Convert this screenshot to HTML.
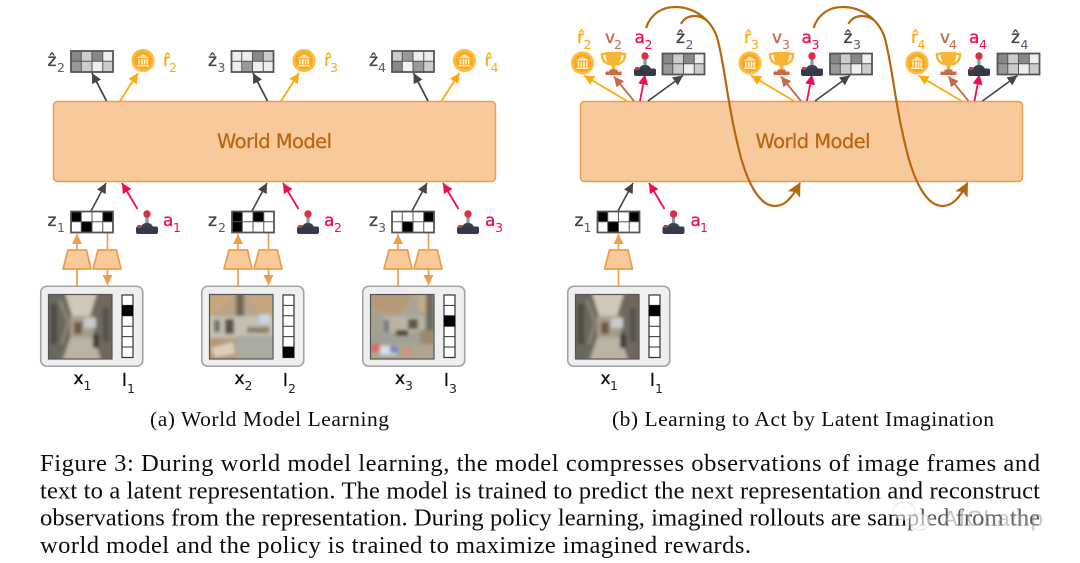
<!DOCTYPE html>
<html><head><meta charset="utf-8"><style>
html,body{margin:0;padding:0;background:#fff;width:1080px;height:563px;overflow:hidden}
svg{display:block}
.d{font-family:"DejaVu Sans",sans-serif;font-size:17px;stroke-width:.35px;paint-order:stroke}
.s{font-family:"DejaVu Sans",sans-serif;font-size:12.5px}
.t{font-family:"Liberation Serif",serif;font-size:24.6px;fill:#111}
.c{font-family:"Liberation Serif",serif;font-size:21.5px;fill:#111}
</style></head><body>
<svg width="1080" height="563" viewBox="0 0 1080 563" xmlns="http://www.w3.org/2000/svg">
<defs>
<filter id="b" x="-10%" y="-10%" width="120%" height="120%"><feGaussianBlur stdDeviation="1.7"/></filter>
<filter id="soft" filterUnits="userSpaceOnUse" x="0" y="0" width="1080" height="563"><feGaussianBlur stdDeviation="0.35"/></filter>
<clipPath id="ic"><rect width="64" height="65"/></clipPath>
<marker id="mk" markerUnits="userSpaceOnUse" markerWidth="12" markerHeight="12" refX="10" refY="5" orient="auto"><path d="M0,0L10,5L0,10z" fill="#444"/></marker>
<marker id="mo" markerUnits="userSpaceOnUse" markerWidth="12" markerHeight="12" refX="10" refY="5" orient="auto"><path d="M0,0L10,5L0,10z" fill="#ffa90a"/></marker>
<marker id="mr" markerUnits="userSpaceOnUse" markerWidth="12" markerHeight="12" refX="10" refY="5" orient="auto"><path d="M0,0L10,5L0,10z" fill="#f0104f"/></marker>
<marker id="mb" markerUnits="userSpaceOnUse" markerWidth="12" markerHeight="12" refX="10" refY="5" orient="auto"><path d="M0,0L10,5L0,10z" fill="#c8694a"/></marker>
<marker id="mf" markerUnits="userSpaceOnUse" markerWidth="12" markerHeight="12" refX="10" refY="5" orient="auto"><path d="M0,0L10,5L0,10z" fill="#ef9d4a"/></marker>
<marker id="mc" markerUnits="userSpaceOnUse" markerWidth="16" markerHeight="16" refX="13" refY="7" orient="auto"><path d="M0,0L14,7L0,14L3,7z" fill="#b8660c"/></marker>

<g id="grid"><path d="M10.75,0V21.5M21.5,0V21.5M32.25,0V21.5M0,10.75H43" stroke="#555" stroke-width="1" fill="none"/><rect x=".5" y=".5" width="42" height="21" fill="none" stroke="#555" stroke-width="1.8"/></g>
<g id="za">
<rect width="10.75" height="10.75" fill="#888"/><rect x="10.75" width="10.75" height="10.75" fill="#ccc"/><rect x="21.5" width="10.75" height="10.75" fill="#888"/><rect x="32.25" width="10.75" height="10.75" fill="#eee"/>
<rect y="10.75" width="10.75" height="10.75" fill="#999"/><rect x="10.75" y="10.75" width="10.75" height="10.75" fill="#ccc"/><rect x="21.5" y="10.75" width="10.75" height="10.75" fill="#eee"/><rect x="32.25" y="10.75" width="10.75" height="10.75" fill="#ccc"/>
<use href="#grid"/></g>
<g id="zb">
<rect width="10.75" height="10.75" fill="#eee"/><rect x="10.75" width="10.75" height="10.75" fill="#eee"/><rect x="21.5" width="10.75" height="10.75" fill="#888"/><rect x="32.25" width="10.75" height="10.75" fill="#ccc"/>
<rect y="10.75" width="10.75" height="10.75" fill="#eee"/><rect x="10.75" y="10.75" width="10.75" height="10.75" fill="#999"/><rect x="21.5" y="10.75" width="10.75" height="10.75" fill="#eee"/><rect x="32.25" y="10.75" width="10.75" height="10.75" fill="#eee"/>
<use href="#grid"/></g>
<g id="zc">
<rect width="10.75" height="10.75" fill="#ccc"/><rect x="10.75" width="10.75" height="10.75" fill="#999"/><rect x="21.5" width="10.75" height="10.75" fill="#eee"/><rect x="32.25" width="10.75" height="10.75" fill="#eee"/>
<rect y="10.75" width="10.75" height="10.75" fill="#888"/><rect x="10.75" y="10.75" width="10.75" height="10.75" fill="#f2f2f2"/><rect x="21.5" y="10.75" width="10.75" height="10.75" fill="#999"/><rect x="32.25" y="10.75" width="10.75" height="10.75" fill="#ccc"/>
<use href="#grid"/></g>
<g id="b1"><rect width="43" height="21.5" fill="#fff"/><rect width="10.75" height="10.75"/><rect x="32.25" width="10.75" height="10.75"/><rect x="10.75" y="10.75" width="10.75" height="10.75"/><use href="#grid"/></g>
<g id="b2"><rect width="43" height="21.5" fill="#fff"/><rect width="10.75" height="21.5"/><rect x="21.5" width="10.75" height="10.75"/><use href="#grid"/></g>
<g id="b3"><rect width="43" height="21.5" fill="#fff"/><rect x="32.25" width="10.75" height="10.75"/><rect x="10.75" y="10.75" width="10.75" height="10.75"/><use href="#grid"/></g>

<g id="coin"><circle r="11.6" fill="#fbbd45"/><circle r="9" fill="#fda81e"/>
<path d="M-6.5,-2.4L0,-6.4L6.5,-2.4zM-6,4.4H6V6H-6zM-5,-1.4H-3.2V3.8H-5zM-2,-1.4H-.3V3.8H-2zM.7,-1.4H2.4V3.8H.7zM3.4,-1.4H5.1V3.8H3.4z" fill="#ffeec8"/></g>
<g id="trophy">
<path d="M-8,-11H8C8,-2 5,2 1.8,3V6.5H-1.8V3C-5,2 -8,-2 -8,-11z" fill="#f8b534"/>
<path d="M-8,-9H-11.5C-12,-3 -8,0 -4,1.5M8,-9H11.5C12,-3 8,0 4,1.5" fill="none" stroke="#f8b534" stroke-width="2.4"/>
<path d="M-4,6.5H4V8.5H8V12H-8V8.5H-4z" fill="#c8694a"/></g>
<g id="joy"><rect x="-1.6" y="1" width="3.2" height="10" fill="#8d9aa5"/><circle cy="0" r="3.7" fill="#de2d45"/>
<path d="M-6.5,14C-5,9.5 -2.5,9 0,9C2.5,9 5,9.5 6.5,14z" fill="#3b4450"/>
<rect x="-11" y="12.5" width="22" height="7.5" rx="2" fill="#323b47"/><rect x="-10" y="11" width="4.5" height="3" rx="1.2" fill="#de2d45"/></g>
<path id="trap" d="M5,0H23.5L28,19H0z" fill="#f8c99b" stroke="#ef9d4a" stroke-width="1.7" stroke-linejoin="round"/>

<g id="box"><rect x=".75" y=".75" width="102" height="80" rx="6" fill="#efefef" stroke="#a3a3a3" stroke-width="1.6"/></g>
<g id="lbar"><rect width="11" height="62.5" fill="#fff"/><path d="M0,10.4H11M0,20.8H11M0,31.2H11M0,41.6H11M0,52H11" stroke="#333" stroke-width="1"/><rect width="11" height="62.5" fill="none" stroke="#333" stroke-width="1.2"/></g>

<g id="im1"><g clip-path="url(#ic)"><g filter="url(#b)">
<rect x="-4" y="-4" width="72" height="73" fill="#76725f"/>
<path d="M-4,-4H18L26,24V40L8,69H-4z" fill="#6b675c"/><path d="M68,-4H46L40,24V38L56,69H68z" fill="#6d695d"/>
<path d="M16,-4H50L42,22H24z" fill="#cfc7b8"/>
<rect x="22" y="22" width="24" height="22" fill="#a89d8a"/>
<rect x="36" y="24" width="12" height="10" fill="#c4cccc"/>
<rect x="26" y="28" width="8" height="12" fill="#6d5947"/>
<path d="M22,44H46L54,69H14z" fill="#b8b4a2"/>
<rect x="45" y="40" width="6" height="14" fill="#3f3b34"/>
<rect x="3" y="10" width="6" height="40" fill="#4f4c44"/><rect x="55" y="14" width="6" height="34" fill="#55514a"/>
<path d="M12,6L20,28L14,50" stroke="#8b877a" stroke-width="3" fill="none"/>
</g></g><rect x=".5" y=".5" width="63.5" height="64.5" fill="none" stroke="#555" stroke-width="1.2"/></g>

<g id="im2"><g clip-path="url(#ic)"><g filter="url(#b)">
<rect x="-4" y="-4" width="72" height="73" fill="#b9a488"/>
<path d="M-4,-4H30L10,18L-4,22zM68,-4H36L48,16L68,20z" fill="#c6a67c"/>
<rect x="27" y="-4" width="8" height="34" fill="#6e655a"/>
<rect x="-4" y="22" width="72" height="22" fill="#c4bfb0"/>
<rect x="50" y="20" width="11" height="9" fill="#c6d6e4"/>
<rect x="16" y="25" width="9" height="15" fill="#54524e"/><rect x="5" y="26" width="6" height="12" fill="#6d7070"/>
<path d="M26,42H68V69H24z" fill="#aaaba3"/>
<path d="M-4,44H26L28,69H-4z" fill="#b79a74"/><path d="M2,54L24,48L26,60L6,63z" fill="#d8cfbd"/>
<rect x="38" y="33" width="22" height="6" fill="#8b7f6c"/>
</g></g><rect x=".5" y=".5" width="63.5" height="64.5" fill="none" stroke="#555" stroke-width="1.2"/></g>

<g id="im3"><g clip-path="url(#ic)"><g filter="url(#b)">
<rect x="-4" y="-4" width="72" height="73" fill="#a8a598"/>
<path d="M-4,-4H46L30,20H18L-4,12z" fill="#b69a76"/><path d="M46,-4H68V16L50,18z" fill="#c2ad8e"/>
<path d="M-4,14L18,22L14,38H-4z" fill="#a7a08f"/><rect x="56" y="-4" width="8" height="44" fill="#6e6a5e"/>
<rect x="14" y="22" width="40" height="16" fill="#b9b3a2"/>
<rect x="38" y="25" width="10" height="10" fill="#5a5850"/><rect x="14" y="26" width="5" height="12" fill="#6b7a85"/>
<path d="M8,38H54L60,50H-4z" fill="#9fa197"/><rect x="26" y="36" width="12" height="6" fill="#50493e"/><rect x="50" y="36" width="14" height="16" fill="#9c8a6c"/>
<path d="M-4,50H68V69H-4z" fill="#b0a58f"/>
<rect x="1" y="50" width="10" height="8" fill="#d56a62"/><rect x="10" y="52" width="16" height="9" fill="#d9dde6"/><rect x="20" y="52" width="8" height="7" fill="#6f8cc5"/><rect x="34" y="53" width="9" height="9" fill="#c29a78"/>
</g></g><rect x=".5" y=".5" width="63.5" height="64.5" fill="none" stroke="#555" stroke-width="1.2"/></g>

<g id="arL"><path d="M53.5,0L39,-28" stroke="#444" stroke-width="1.8" fill="none" marker-end="url(#mk)"/><path d="M67,0L85,-28" stroke="#ffa90a" stroke-width="1.8" fill="none" marker-end="url(#mo)"/></g>
<g id="arB"><path d="M91,211L106,183" stroke="#444" stroke-width="1.6" fill="none" marker-end="url(#mk)"/><path d="M137.5,209L122,183" stroke="#f0104f" stroke-width="1.8" fill="none" marker-end="url(#mr)"/></g>
<g id="arR"><path d="M627,101L584,75.5" stroke="#ffa90a" stroke-width="1.8" fill="none" marker-end="url(#mo)"/><path d="M634,101L614,76.5" stroke="#c8694a" stroke-width="1.8" fill="none" marker-end="url(#mb)"/><path d="M640,101L645,74.5" stroke="#f0104f" stroke-width="1.8" fill="none" marker-end="url(#mr)"/><path d="M648,101L683,75.5" stroke="#444" stroke-width="1.6" fill="none" marker-end="url(#mk)"/></g>
<g id="enc"><path d="M77,286V234" stroke="#ef9d4a" stroke-width="1.7" fill="none" marker-end="url(#mf)"/><use href="#trap" x="63" y="250"/></g>
<g id="dec"><path d="M107.5,233V285" stroke="#ef9d4a" stroke-width="1.7" fill="none" marker-end="url(#mf)"/><use href="#trap" x="93" y="250"/></g>
</defs>

<rect width="1080" height="563" fill="#fff"/>
<g filter="url(#soft)">

<!-- World model boxes -->
<rect x="53.5" y="101.5" width="442" height="80" rx="4" fill="#f8c99b" stroke="#ec9f50" stroke-width="1.5"/>
<rect x="580.5" y="101.5" width="442" height="80" rx="4" fill="#f8c99b" stroke="#ec9f50" stroke-width="1.5"/>
<text x="274.5" y="148" text-anchor="middle" font-family="DejaVu Sans,sans-serif" font-size="19.5" fill="#b8660c" stroke="#b8660c" stroke-width=".25" textLength="115">World Model</text>
<text x="813" y="148" text-anchor="middle" font-family="DejaVu Sans,sans-serif" font-size="19.5" fill="#b8660c" stroke="#b8660c" stroke-width=".25" textLength="115">World Model</text>

<!-- Left top -->
<use href="#za" x="70.5" y="50.5"/><use href="#zb" x="231" y="50.5"/><use href="#zc" x="391.5" y="50.5"/>
<use href="#coin" x="143" y="60.5"/><use href="#coin" x="304" y="60.5"/><use href="#coin" x="464.5" y="60.5"/>
<use href="#arL" x="53" y="101"/><use href="#arL" x="214" y="101"/><use href="#arL" x="374.5" y="101"/>
<g fill="#444" stroke="#444">
<text class="d" x="47.5" y="66">ẑ</text><text class="d" x="208" y="66">ẑ</text><text class="d" x="369" y="66">ẑ</text>
</g>
<g fill="#4b6078">
<text class="s" x="57" y="72">2</text><text class="s" x="217.5" y="72">3</text><text class="s" x="378" y="72">4</text>
</g>
<g fill="#ffa90a" stroke="#ffa90a">
<text class="d" x="163" y="66">r̂</text>
<text class="d" x="324" y="66">r̂</text>
<text class="d" x="484.5" y="66">r̂</text>
</g>
<g fill="#ffa90a">
<text class="s" x="169" y="72">2</text><text class="s" x="330" y="72">3</text><text class="s" x="490.5" y="72">4</text>
</g>

<!-- Left bottom -->
<use href="#arB"/><use href="#arB" x="161"/><use href="#arB" x="321"/>
<use href="#enc"/><use href="#dec"/><use href="#enc" x="161"/><use href="#dec" x="161"/><use href="#enc" x="321"/><use href="#dec" x="321"/>
<use href="#b1" x="70.5" y="211"/><use href="#b2" x="231.5" y="211"/><use href="#b3" x="391.5" y="211"/>
<use href="#joy" x="147" y="214"/><use href="#joy" x="308" y="214"/><use href="#joy" x="468" y="214"/>
<g fill="#444" stroke="#444">
<text class="d" x="47.5" y="226">z</text><text class="d" x="208" y="226">z</text><text class="d" x="369" y="226">z</text>
</g>
<g fill="#4b6078">
<text class="s" x="57" y="232">1</text><text class="s" x="218" y="232">2</text><text class="s" x="378" y="232">3</text>
</g>
<g fill="#f0104f" stroke="#f0104f">
<text class="d" x="163" y="226">a</text><text class="d" x="324" y="226">a</text><text class="d" x="485" y="226">a</text>
</g>
<g fill="#f0104f">
<text class="s" x="173" y="232">1</text><text class="s" x="334" y="232">2</text><text class="s" x="495" y="232">3</text>
</g>

<use href="#box" x="40" y="285.5"/><use href="#box" x="201" y="285.5"/><use href="#box" x="362" y="285.5"/>
<use href="#im1" x="48" y="294"/><use href="#im2" x="209" y="294"/><use href="#im3" x="370" y="294"/>
<use href="#lbar" x="122" y="295"/><rect x="122" y="305.4" width="11" height="10.4"/>
<use href="#lbar" x="283" y="295"/><rect x="283" y="347" width="11" height="10.5"/>
<use href="#lbar" x="444" y="295"/><rect x="444" y="315.8" width="11" height="10.4"/>
<g fill="#111" stroke="#111">
<text class="d" x="73.5" y="384">x</text><text class="d" x="122" y="386">l</text>
<text class="d" x="234.5" y="384">x</text><text class="d" x="283" y="386">l</text>
<text class="d" x="395" y="384">x</text><text class="d" x="444" y="386">l</text>
<text class="d" x="600.5" y="384">x</text><text class="d" x="650" y="386">l</text>
</g>
<g fill="#222">
<text class="s" x="83.5" y="390">1</text><text class="s" x="127" y="393">1</text>
<text class="s" x="244.5" y="390">2</text><text class="s" x="288" y="393">2</text>
<text class="s" x="405" y="390">3</text><text class="s" x="449" y="393">3</text>
<text class="s" x="610" y="390">1</text><text class="s" x="655" y="393">1</text>
</g>

<!-- Right top -->
<use href="#arR"/><use href="#arR" x="167"/><use href="#arR" x="334.5"/>
<g>
<use href="#coin" x="582.5" y="63"/><use href="#coin" x="750" y="63"/><use href="#coin" x="917" y="63"/>
<use href="#trophy" x="613.5" y="63"/><use href="#trophy" x="781.5" y="63"/><use href="#trophy" x="948.5" y="63"/>
<use href="#joy" x="645" y="56"/><use href="#joy" x="812" y="56"/><use href="#joy" x="979" y="56"/>
<use href="#za" x="662" y="53"/><use href="#za" x="829.5" y="53"/><use href="#za" x="997" y="53"/>
</g>
<g fill="#ffa90a" stroke="#ffa90a">
<text class="d" x="577" y="43">r̂</text><text class="d" x="744" y="43">r̂</text><text class="d" x="911" y="43">r̂</text>
</g>
<g fill="#ffa90a">
<text class="s" x="583.5" y="49">2</text><text class="s" x="751" y="49">3</text><text class="s" x="917.5" y="49">4</text>
</g>
<g fill="#c8694a" stroke="#c8694a">
<text class="d" x="605" y="43">v</text><text class="d" x="772" y="43">v</text><text class="d" x="940" y="43">v</text>
</g>
<g fill="#c8694a">
<text class="s" x="614" y="49">2</text><text class="s" x="782" y="49">3</text><text class="s" x="949" y="49">4</text>
</g>
<g fill="#f0104f" stroke="#f0104f">
<text class="d" x="634.5" y="43">a</text><text class="d" x="801.5" y="43">a</text><text class="d" x="969" y="43">a</text>
</g>
<g fill="#f0104f">
<text class="s" x="644.5" y="49">2</text><text class="s" x="811.5" y="49">3</text><text class="s" x="979" y="49">4</text>
</g>
<g fill="#444" stroke="#444">
<text class="d" x="676" y="43">ẑ</text><text class="d" x="843.5" y="43">ẑ</text><text class="d" x="1011" y="43">ẑ</text>
</g>
<g fill="#4b6078">
<text class="s" x="685.5" y="49">2</text><text class="s" x="853" y="49">3</text><text class="s" x="1020.5" y="49">4</text>
</g>

<!-- Curves -->
<g id="cv" fill="none" stroke="#b8660c" stroke-width="2.2">
<path d="M646,28C651,13 663,7 675,7C695,7 711,20 717,37C725,65 727,105 741,158C748,182 759,206 775,206C785,206 792,198 800,183" marker-end="url(#mc)"/>
<path d="M681,24C684,18 689,16 695,16C699,16 702,17 706,20"/>
</g>
<use href="#cv" x="167.5"/>

<!-- Right bottom -->
<use href="#arB" x="527"/>
<use href="#enc" x="541.5"/>
<use href="#b1" x="597" y="211"/>
<use href="#joy" x="673.5" y="214"/>
<text class="d" x="574.5" y="226" fill="#444" stroke="#444">z</text><text class="s" x="583.5" y="232" fill="#4b6078">1</text>
<text class="d" x="690.5" y="226" fill="#f0104f" stroke="#f0104f">a</text><text class="s" x="700" y="232" fill="#f0104f">1</text>
<use href="#box" x="567" y="285.5"/><use href="#im1" x="575" y="294"/>
<use href="#lbar" x="649" y="295"/><rect x="649" y="305.4" width="11" height="10.4"/>

<!-- Captions -->
<text class="c" x="150" y="426" textLength="239">(a) World Model Learning</text>
<text class="c" x="612" y="426" textLength="382">(b) Learning to Act by Latent Imagination</text>

<text class="t" x="40" y="471" textLength="1000">Figure 3: During world model learning, the model compresses observations of image frames and</text>
<text class="t" x="40" y="498.5" textLength="1000">text to a latent representation. The model is trained to predict the next representation and reconstruct</text>
<text class="t" x="40" y="525.5" textLength="1000">observations from the representation. During policy learning, imagined rollouts are sampled from the</text>
<text class="t" x="40" y="553" textLength="711">world model and the policy is trained to maximize imagined rewards.</text>

<!-- Watermark -->
<rect x="905" y="508" width="138" height="24" fill="#fff" opacity=".3"/>
<ellipse cx="904" cy="511" rx="11" ry="9" fill="#fff" opacity=".55" stroke="#ccc" stroke-width="1"/>
<ellipse cx="920" cy="522" rx="10" ry="8" fill="#fff" opacity=".55" stroke="#ccc" stroke-width="1"/>
<text x="943" y="526" font-family="Liberation Sans,sans-serif" font-size="22" fill="#999" opacity=".55" textLength="100">AIChamp</text>
</g>
</svg>
</body></html>
